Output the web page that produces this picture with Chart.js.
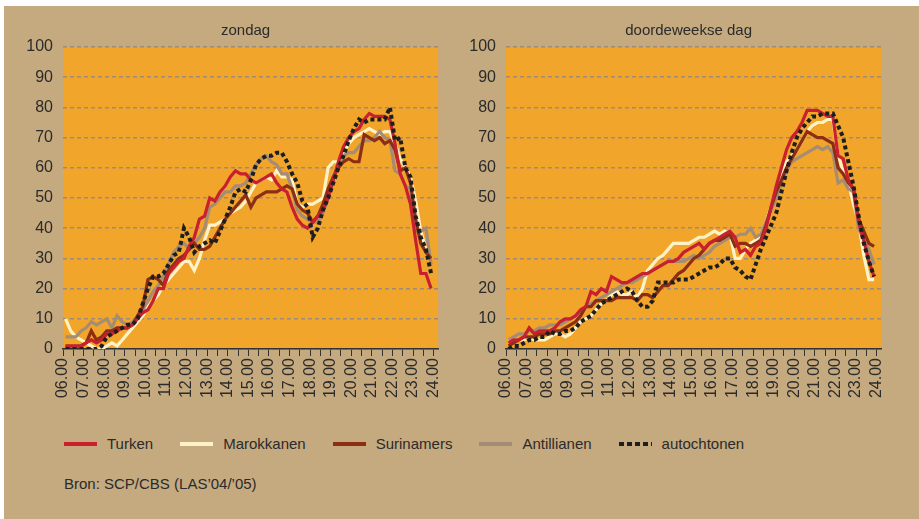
<!DOCTYPE html>
<html>
<head>
<meta charset="utf-8">
<script src="https://cdn.jsdelivr.net/npm/chart.js@4.4.1/dist/chart.umd.min.js"></script>
<style>
  body { margin: 0; background: #fff; font-family: 'Liberation Sans', Arial, sans-serif; color: #2b2b2b; }
  #panel { position: absolute; left: 4px; top: 6px; width: 915px; height: 513px; background: #C5A97F; }
  canvas { position: absolute; top: 0; }
  #chartLeft { left: 0; }
  #chartRight { left: 443px; }
  #legend { position: absolute; left: 64px; top: 435px; display: flex; align-items: center; font-size: 15px; }
  .swatch { width: 33px; height: 4px; margin-right: 10px; }
  .label { margin-right: 27px; line-height: 18px; }
  #source { position: absolute; left: 64px; top: 475px; font-size: 15px; }
</style>
</head>
<body>
<div id="panel"></div>
<canvas id="chartLeft" width="455" height="409"></canvas>
<canvas id="chartRight" width="455" height="409"></canvas>
<div id="legend"></div>
<div id="source">Bron: SCP/CBS (LAS’04/’05)</div>

<script>
// quarter-hour categories (start of each quarter)
const quarters = [
  "06.00","06.15","06.30","06.45","07.00","07.15","07.30","07.45",
  "08.00","08.15","08.30","08.45","09.00","09.15","09.30","09.45",
  "10.00","10.15","10.30","10.45","11.00","11.15","11.30","11.45",
  "12.00","12.15","12.30","12.45","13.00","13.15","13.30","13.45",
  "14.00","14.15","14.30","14.45","15.00","15.15","15.30","15.45",
  "16.00","16.15","16.30","16.45","17.00","17.15","17.30","17.45",
  "18.00","18.15","18.30","18.45","19.00","19.15","19.30","19.45",
  "20.00","20.15","20.30","20.45","21.00","21.15","21.30","21.45",
  "22.00","22.15","22.30","22.45","23.00","23.15","23.30","23.45"
];

const hourLabels = ["06.00","07.00","08.00","09.00","10.00","11.00","12.00","13.00","14.00",
  "15.00","16.00","17.00","18.00","19.00","20.00","21.00","22.00","23.00","24.00"];

const seriesNames = ["Turken", "Marokkanen", "Surinamers", "Antillianen", "autochtonen"];
const seriesColors = ["#C8202E", "#FFF2C6", "#8B2E14", "#A58C75", "#1E1E1E"];

// zondag
const zondagTurken = [1,1,1,1,2,3,2,3, 5,5,6,7,7,8,10,12, 13,16,20,20,25,27,29,30, 34,37,43,44,50,49,52,54,
  57,59,58,58,56,55,56,57, 58,55,53,52,47,43,41,40, 42,44,46,50,56,62,67,70, 72,73,76,78,77,77,77,76,
  68,58,54,48,36,25,25,20];
const zondagMarokkanen = [10,6,4,3,2,1,0,0, 1,2,1,3,5,7,9,11, 14,16,18,21,23,25,27,29, 29,26,30,36,41,41,42,43,
  45,46,47,49,52,55,56,57, 56,59,57,57,56,48,47,48, 48,49,50,60,62,62,65,68, 70,71,72,73,72,71,72,72,
  68,63,60,57,49,39,33,30];
const zondagSurinamers = [1,1,1,1,2,6,3,4, 6,6,7,7,7,8,11,14, 23,24,23,21,26,28,30,31, 33,35,33,33,34,37,40,43,
  45,47,49,51,47,50,51,52, 52,52,53,54,53,48,46,45, 42,44,48,53,57,60,62,63, 62,62,71,70,69,70,68,69,
  66,59,60,55,43,35,32,30];
const zondagAntillianen = [4,4,4,6,7,9,8,9, 10,7,11,9,8,9,11,13, 16,19,21,24,28,32,34,35, 33,35,37,40,47,48,50,52,
  52,54,54,55,58,61,63,64, 62,61,58,58,53,46,44,43, 42,42,45,50,57,61,64,65, 65,67,69,69,70,72,70,69,
  59,58,54,53,39,39,40,28];
const zondagAutochtonen = [0,0,0,0,0,0,0,1, 4,5,6,7,8,8,10,15, 20,24,24,25,28,31,32,40, 37,32,34,35,36,35,39,43,
  47,52,53,52,56,61,63,64, 64,65,65,62,58,55,49,47, 37,40,46,50,55,60,64,69, 73,76,75,76,76,76,76,80,
  69,70,60,57,44,37,33,25];

// doordeweekse dag
const werkdagTurken = [2,3,3,4,7,5,6,6, 6,7,9,10,10,11,13,14, 19,18,20,19,24,23,22,22, 23,24,25,25,26,27,28,29,
  29,30,32,33,34,35,33,35, 36,37,38,39,37,32,33,31, 34,35,40,47,54,60,66,70, 72,75,79,79,79,78,77,77,
  64,63,56,53,42,36,29,24];
const werkdagMarokkanen = [3,3,3,3,4,3,3,3, 4,5,5,4,5,7,9,10, 11,13,15,16,18,19,18,18, 19,17,20,26,28,30,31,33,
  35,35,35,35,36,37,37,38, 39,38,39,38,30,30,33,35, 36,38,42,47,52,58,62,64, 66,69,72,74,75,75,76,76,
  64,59,55,48,42,31,23,23];
const werkdagSurinamers = [1,2,3,4,4,4,5,5, 5,6,6,7,8,9,11,14, 14,16,16,16,16,17,17,17, 17,16,18,18,17,19,21,21,
  23,25,26,28,30,31,33,35, 36,36,37,38,34,35,35,34, 35,36,41,47,52,56,60,63, 66,69,72,71,70,70,69,68,
  60,58,55,53,43,39,35,34];
const werkdagAntillianen = [3,4,5,5,6,6,7,7, 8,8,8,9,10,11,12,14, 15,16,17,18,19,20,21,22, 22,23,24,25,26,27,28,29,
  29,29,29,30,31,30,31,32, 34,35,36,37,37,38,38,40, 37,38,42,46,50,55,59,62, 63,64,65,66,67,66,67,65,
  55,56,53,52,40,36,33,28];
const werkdagAutochtonen = [0,1,1,2,3,3,4,4, 6,5,5,6,6,7,9,10, 11,13,15,16,17,18,19,20, 19,16,14,14,16,22,22,22,
  22,23,23,23,24,25,26,27, 27,28,30,30,27,26,24,23, 28,33,37,41,45,52,59,65, 70,73,75,77,77,78,78,78,
  74,70,62,54,44,35,29,24];

// each value is plotted in the middle of its quarter hour
function quarterToHour(q) {
  const [h, m] = q.split(".");
  return Number(h) + Number(m) / 60 + 0.125;
}
const xs = quarters.map(quarterToHour);

const plotFill = {
  id: "plotFill",
  beforeDraw(chart) {
    const { ctx, chartArea: a } = chart;
    ctx.save();
    ctx.fillStyle = "#F2A52B";
    ctx.fillRect(a.left, a.top, a.right - a.left, a.bottom - a.top);
    ctx.restore();
  }
};

// title centred over the plot area
const panelTitle = {
  id: "panelTitle",
  afterDraw(chart, args, opts) {
    const { ctx, chartArea: a } = chart;
    ctx.save();
    ctx.font = "15px 'Liberation Sans', Arial, sans-serif";
    ctx.fillStyle = "#2b2b2b";
    ctx.textAlign = "center";
    ctx.textBaseline = "middle";
    ctx.fillText(opts.text, (a.left + a.right) / 2 - 5, 31);
    ctx.restore();
  }
};

const drawOrder = [1, 4, 2, 3, 0];

function makeChart(canvasId, title, seriesData) {
  const datasets = seriesData.map((values, i) => ({
    label: seriesNames[i],
    data: values.map((v, j) => ({ x: xs[j], y: v })),
    borderColor: seriesColors[i],
    borderWidth: i === 4 ? 4 : 3.2,
    borderDash: i === 4 ? [4, 3] : [],
    borderCapStyle: "butt",
    pointRadius: 0,
    tension: 0,
    fill: false,
    order: drawOrder[i],
  }));

  return new Chart(document.getElementById(canvasId), {
    type: "line",
    data: { datasets: datasets },
    plugins: [plotFill, panelTitle],
    options: {
      responsive: false,
      animation: false,
      events: [],
      layout: { padding: { left: 23, right: 12, top: 47, bottom: 0 } },
      plugins: {
        legend: { display: false },
        tooltip: { enabled: false },
        panelTitle: { text: title },
      },
      scales: {
        x: {
          type: "linear",
          min: 6,
          max: 24.22,
          ticks: {
            stepSize: 0.5,
            includeBounds: false,
            autoSkip: false,
            minRotation: 90,
            maxRotation: 90,
            padding: 2,
            color: "#2b2b2b",
            font: { size: 16, family: "'Liberation Sans', Arial, sans-serif" },
            callback: (v) => {
              const r = Math.round(v);
              return Math.abs(v - r) < 1e-6 ? hourLabels[r - 6] : "";
            },
          },
          grid: { drawOnChartArea: false, color: "#333", lineWidth: 1, tickLength: 7 },
          border: { display: true, color: "#333", width: 1.5 },
          afterFit: (s) => { s.height = 60; },
        },
        y: {
          min: 0,
          max: 100,
          ticks: {
            stepSize: 10,
            padding: 10,
            color: "#2b2b2b",
            font: { size: 16, family: "'Liberation Sans', Arial, sans-serif" },
          },
          grid: { color: "#9E8B77", lineWidth: 1.5, drawTicks: false },
          border: { display: false, dash: [4, 3] },
          afterFit: (s) => { s.width = 40; },
        },
      },
    },
  });
}

makeChart("chartLeft", "zondag",
  [zondagTurken, zondagMarokkanen, zondagSurinamers, zondagAntillianen, zondagAutochtonen]);
makeChart("chartRight", "doordeweekse dag",
  [werkdagTurken, werkdagMarokkanen, werkdagSurinamers, werkdagAntillianen, werkdagAutochtonen]);

// legend below both charts
const legend = document.getElementById("legend");
seriesNames.forEach((name, i) => {
  const sw = document.createElement("div");
  sw.className = "swatch";
  if (i === 4) {
    sw.style.background = "repeating-linear-gradient(90deg, " + seriesColors[i] + " 0 5px, transparent 5px 8px)";
  } else {
    sw.style.background = seriesColors[i];
  }
  const lb = document.createElement("div");
  lb.className = "label";
  lb.textContent = name;
  legend.appendChild(sw);
  legend.appendChild(lb);
});
</script>
</body>
</html>
